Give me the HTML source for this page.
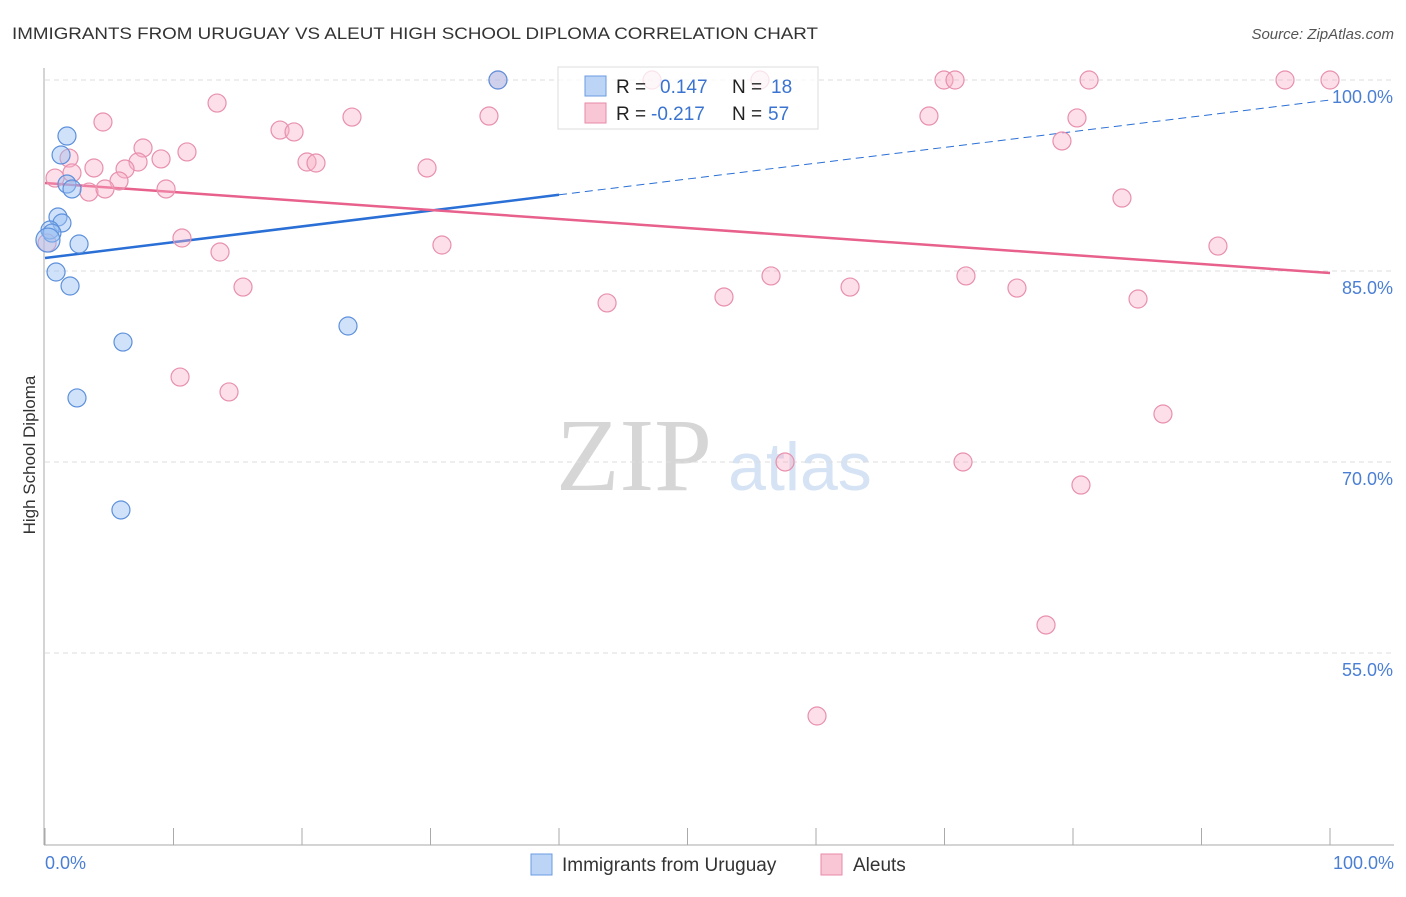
<!DOCTYPE html>
<html><head><meta charset="utf-8"><style>
body{margin:0;background:#fff;font-family:"Liberation Sans",sans-serif;}
svg text{font-family:"Liberation Sans",sans-serif;}
</style></head><body>
<svg id="c" width="1406" height="892" xmlns="http://www.w3.org/2000/svg">
<text x="12" y="39" font-size="17" fill="#333" textLength="806" lengthAdjust="spacingAndGlyphs">IMMIGRANTS FROM URUGUAY VS ALEUT HIGH SCHOOL DIPLOMA CORRELATION CHART</text>
<text x="1394" y="39" font-size="15" fill="#555" font-style="italic" text-anchor="end">Source: ZipAtlas.com</text>
<text x="634" y="490" font-size="104" fill="#d6d6d6" text-anchor="middle" style="font-family:'Liberation Serif',serif">ZIP</text>
<text x="800" y="490" font-size="68" fill="#d5e3f5" text-anchor="middle">atlas</text>
<g id="grid"></g>
<g id="axes"></g>
<g id="lines"></g>
<g id="pts"></g>
<text x="35" y="455" font-size="17" fill="#333" text-anchor="middle" transform="rotate(-90 35 455)">High School Diploma</text>
<text x="45" y="869" font-size="18" fill="#4a7fd4">0.0%</text>
<text x="1394" y="869" font-size="18" fill="#4a7fd4" text-anchor="end">100.0%</text>
<g>
<rect x="558" y="67" width="260" height="62" fill="#fff" fill-opacity="0.75" stroke="#ddd"/>
<rect x="585" y="76" width="21" height="20" fill="#bcd4f6" stroke="#6a9be0"/>
<rect x="585" y="103" width="21" height="20" fill="#f9c6d6" stroke="#e88aa8"/>
<text x="616" y="93" font-size="19" fill="#222">R = <tspan fill="#3a73d0" x="660">0.147</tspan><tspan fill="#222" x="732">N = </tspan><tspan fill="#3a73d0" x="771">18</tspan></text>
<text x="616" y="120" font-size="19" fill="#222">R = <tspan fill="#3a73d0" x="651">-0.217</tspan><tspan fill="#222" x="732">N = </tspan><tspan fill="#3a73d0" x="768">57</tspan></text>
</g>
<g><rect x="531" y="854" width="21" height="21" fill="#bcd4f6" stroke="#6a9be0"/><text x="562" y="871" font-size="19" fill="#333">Immigrants from Uruguay</text></g>
<g><rect x="821" y="854" width="21" height="21" fill="#f9c6d6" stroke="#e88aa8"/><text x="853" y="871" font-size="19" fill="#333">Aleuts</text></g>
</svg>
<script>
const yTicks=[100,85,70,55];
const yTickLabels=["100.0%","85.0%","70.0%","55.0%"];
const xTickVals=[0,10,20,30,40,50,60,70,80,90,100];
const blueX=[35.25,1.71,1.25,1.71,2.10,1.01,1.32,0.39,0.54,0.23,2.65,0.86,1.95,6.07,23.58,2.49,5.91];
const blueY=[100,95.6,94.11,91.83,91.44,89.24,88.77,88.22,87.98,87.43,87.12,84.92,83.82,79.42,80.68,75.03,66.23];
const pinkX=[35.25,47.24,55.64,69.96,70.82,81.25,96.5,100,13.39,4.51,23.89,34.55,68.79,80.31,18.29,19.38,7.63,11.05,1.87,9.03,7.24,20.39,21.09,3.81,6.23,29.73,2.10,0.78,79.14,5.76,3.42,4.67,9.42,83.81,10.66,30.89,91.28,13.62,0.16,56.5,71.67,15.41,62.65,75.64,43.74,52.84,85.06,10.51,14.32,87.0,57.59,71.44,80.62,77.9,60.08];
const pinkY=[100,100,100,100,100,100,100,100,98.19,96.7,97.09,97.17,97.17,97.02,96.07,95.92,94.66,94.35,93.87,93.8,93.56,93.56,93.48,93.09,93.01,93.09,92.7,92.3,95.21,92.07,91.2,91.44,91.44,90.73,87.59,87.04,86.96,86.49,87.2,84.61,84.61,83.74,83.74,83.66,82.49,82.96,82.8,76.67,75.5,73.77,70,70,68.19,57.2,50.05];
const blueTrend=[86.02,98.43];
const pinkTrend=[91.91,84.84];
const blueSolidEnd=40;
const NS="http://www.w3.org/2000/svg";
const sx=v=>45+v*12.85;
const sy=v=>80+(100-v)*12.733;
function mk(tag,attrs,parent){const e=document.createElementNS(NS,tag);for(const k in attrs)e.setAttribute(k,attrs[k]);document.getElementById(parent).appendChild(e);return e;}
yTicks.forEach((t,i)=>{
 const l=mk('line',{x1:45,x2:1394,y1:sy(t),y2:sy(t),stroke:'#ddd','stroke-dasharray':'5,4'},'grid');
 
 
 const tx=mk('text',{x:1393,y:sy(t)+23,'font-size':18,fill:'#4a7fd4','text-anchor':'end'},'grid');
 tx.textContent=yTickLabels[i];
 
 
});
const ya=mk('line',{x1:44,x2:44,y1:68,y2:845,stroke:'#aaa'},'axes');


const xa=mk('line',{x1:44,x2:1394,y1:845,y2:845,stroke:'#aaa'},'axes');


xTickVals.forEach(v=>{const t=mk('line',{x1:sx(v),x2:sx(v),y1:828,y2:845,stroke:'#aaa'},'axes');
 
 });
function trendAt(tr,x){return tr[0]+(tr[1]-tr[0])*x/100;}
let l1=mk('line',{x1:sx(0),y1:sy(trendAt(blueTrend,0)),x2:sx(blueSolidEnd),y2:sy(trendAt(blueTrend,blueSolidEnd)),stroke:'#2a6fd6','stroke-width':2.5},'lines');


let l2=mk('line',{x1:sx(blueSolidEnd),y1:sy(trendAt(blueTrend,blueSolidEnd)),x2:sx(100),y2:sy(trendAt(blueTrend,100)),stroke:'#2a6fd6','stroke-width':1,'stroke-dasharray':'8,5'},'lines');


let l3=mk('line',{x1:sx(0),y1:sy(trendAt(pinkTrend,0)),x2:sx(100),y2:sy(trendAt(pinkTrend,100)),stroke:'#e8608c','stroke-width':2.5},'lines');


pinkX.forEach((x,i)=>{const c=mk('circle',{cx:sx(x),cy:sy(pinkY[i]),r:9,fill:'rgba(248,175,198,0.4)',stroke:'#e890ad','stroke-width':1.2},'pts');
 
 });
blueX.forEach((x,i)=>{const c=mk('circle',{cx:sx(x),cy:sy(blueY[i]),r:(i==9?12:9),fill:'rgba(150,190,242,0.45)',stroke:'#5d90dc','stroke-width':1.2},'pts');
 
 });
</script>
</body></html>
